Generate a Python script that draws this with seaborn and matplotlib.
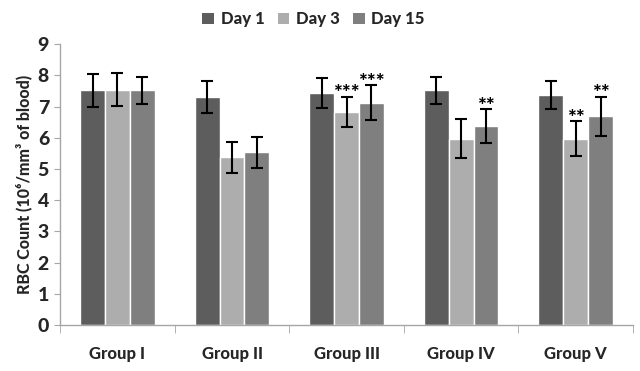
import matplotlib
matplotlib.use("Agg")
import matplotlib.pyplot as plt
import seaborn as sns
import pandas as pd
import numpy as np
from matplotlib.patches import Patch

groups = ["Group I", "Group II", "Group III", "Group IV", "Group V"]
days = ["Day 1", "Day 3", "Day 15"]
day1 = [7.52, 7.31, 7.43, 7.52, 7.37]
day3 = [7.54, 5.38, 6.84, 5.97, 5.97]
day15 = [7.52, 5.54, 7.13, 6.37, 6.69]
err1 = [0.52, 0.52, 0.47, 0.44, 0.45]
err3 = [0.52, 0.50, 0.48, 0.63, 0.56]
err15 = [0.44, 0.50, 0.57, 0.55, 0.63]
stars3 = ["", "", "***", "", "**"]
stars15 = ["", "", "***", "**", "**"]
colors = ["#5d5d5d", "#adadad", "#7f7f7f"]

sns.set_style("white")
plt.rcParams["font.family"] = ["Lato", "DejaVu Sans"]
plt.rcParams["font.weight"] = "black"

rows = []
for vals, d in zip([day1, day3, day15], days):
    for g, v in zip(groups, vals):
        rows.append({"group": g, "day": d, "value": v})
df = pd.DataFrame(rows)

fig = plt.figure(figsize=(6.4, 3.71), dpi=100)
ax = fig.add_axes([0.094, 0.124, 0.895, 0.757])
sns.barplot(data=df, x="group", y="value", hue="day", order=groups, hue_order=days,
            palette=colors, width=0.65, ax=ax, legend=False, saturation=1, errorbar=None)

errs = [err1, err3, err15]
stars = [None, stars3, stars15]
vals_all = [day1, day3, day15]
bar_containers = list(ax.containers)
for ci, cont in enumerate(bar_containers):
    for gi, bar in enumerate(cont.patches):
        xc = bar.get_x() + bar.get_width() / 2
        v = vals_all[ci][gi]
        e = errs[ci][gi]
        ax.errorbar(xc, v, yerr=e, fmt="none", ecolor="black", elinewidth=1.5,
                    capsize=4, capthick=1.5)
        if stars[ci] is not None and stars[ci][gi]:
            ax.text(xc, v + e - 0.22, stars[ci][gi], ha="center", va="bottom",
                    fontsize=15, fontweight="black", color="black")

ax.set_ylim(0, 9)
ax.set_xlim(-0.5, 4.5)
ax.set_yticks(range(0, 10))
ax.set_xlabel("")
ax.set_ylabel("RBC Count (10\u2076/mm\u00b3 of blood)", fontsize=11.5, fontweight="black", labelpad=4)
for s in ["top", "right"]:
    ax.spines[s].set_visible(False)
for s in ["left", "bottom"]:
    ax.spines[s].set_color("#a6a6a6")
    ax.spines[s].set_linewidth(1.0)
ax.tick_params(axis="y", which="major", direction="out", length=4, color="#a6a6a6",
               labelsize=14, pad=4, left=True)
ax.set_xticks(np.arange(-0.5, 5.0, 1.0), minor=True)
ax.tick_params(axis="x", which="minor", direction="out", length=6, color="#a6a6a6", bottom=True)
ax.tick_params(axis="x", which="major", length=0, labelsize=12, pad=15)
for lab in ax.get_xticklabels() + ax.get_yticklabels():
    lab.set_fontweight("black")

handles = [Patch(facecolor=c, edgecolor="none") for c in colors]
fig.legend(handles, days, loc="upper center", bbox_to_anchor=(0.49, 1.01), ncol=3,
           frameon=False, handlelength=0.7, handleheight=0.7,
           columnspacing=0.8, handletextpad=0.4, prop={"weight": "black", "size": 12})

fig.savefig("out.png", dpi=100)
